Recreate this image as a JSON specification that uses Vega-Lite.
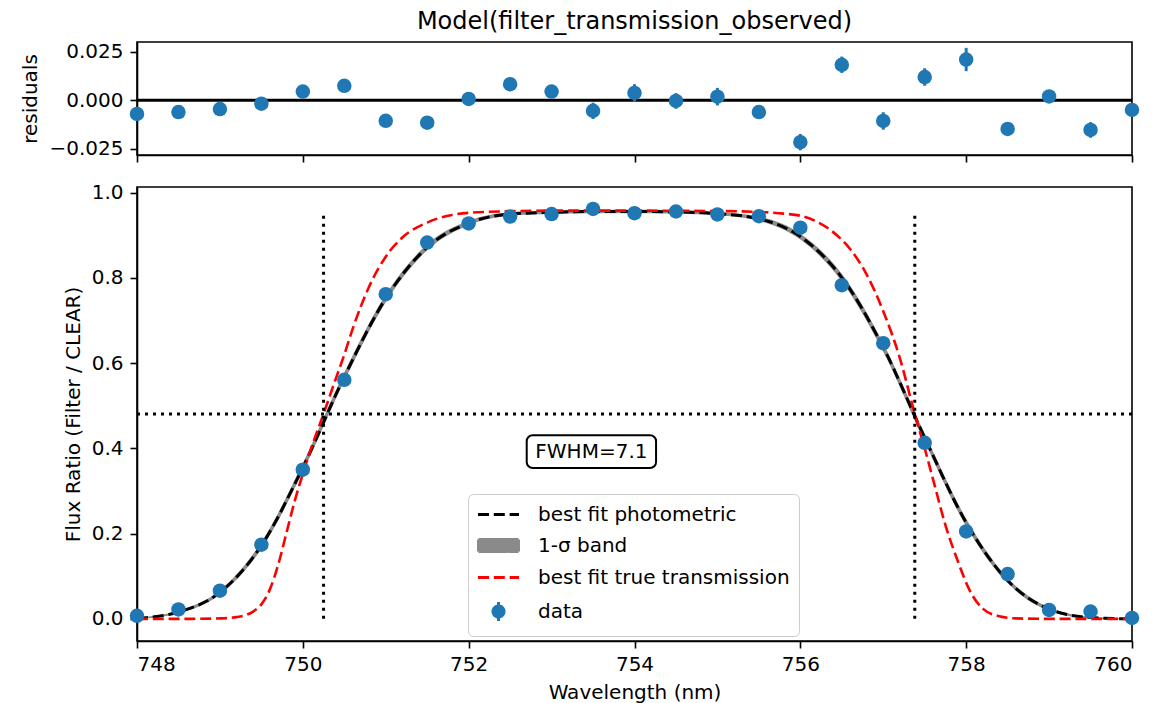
{
  "$schema": "https://vega.github.io/schema/vega-lite/v6.json",
  "background": "white",
  "padding": {"left": 20, "top": 8, "right": 5, "bottom": 5},
  "spacing": 32,
  "bounds": "flush",
  "config": {
    "font": "DejaVu Sans",
    "view": {"stroke": "black", "strokeWidth": 1.6},
    "axis": {
      "grid": false, "labelFontSize": 20, "titleFontSize": 20, "titleFontWeight": "normal",
      "labelColor": "black", "titleColor": "black", "domainColor": "black", "tickColor": "black",
      "tickSize": 7, "tickWidth": 1.6, "domainWidth": 1.6, "labelFont": "DejaVu Sans", "titleFont": "DejaVu Sans"
    }
  },
  "datasets": {
    "obs": [
      {"w": 748.0, "f": 0.007, "err": 0.0015, "res": -0.0070},
      {"w": 748.5, "f": 0.022, "err": 0.0015, "res": -0.0060},
      {"w": 749.0, "f": 0.066, "err": 0.002, "res": -0.0045},
      {"w": 749.5, "f": 0.174, "err": 0.002, "res": -0.0017},
      {"w": 750.0, "f": 0.350, "err": 0.003, "res": 0.0045},
      {"w": 750.5, "f": 0.561, "err": 0.003, "res": 0.0075},
      {"w": 751.0, "f": 0.762, "err": 0.003, "res": -0.0105},
      {"w": 751.5, "f": 0.883, "err": 0.003, "res": -0.0115},
      {"w": 752.0, "f": 0.928, "err": 0.003, "res": 0.0007},
      {"w": 752.5, "f": 0.944, "err": 0.003, "res": 0.0083},
      {"w": 753.0, "f": 0.950, "err": 0.003, "res": 0.0045},
      {"w": 753.5, "f": 0.962, "err": 0.0042, "res": -0.0054},
      {"w": 754.0, "f": 0.952, "err": 0.0045, "res": 0.0038},
      {"w": 754.5, "f": 0.956, "err": 0.004, "res": -0.0003},
      {"w": 755.0, "f": 0.949, "err": 0.0045, "res": 0.0019},
      {"w": 755.5, "f": 0.945, "err": 0.003, "res": -0.0060},
      {"w": 756.0, "f": 0.918, "err": 0.0042, "res": -0.0215},
      {"w": 756.5, "f": 0.783, "err": 0.0042, "res": 0.0183},
      {"w": 757.0, "f": 0.647, "err": 0.0045, "res": -0.0106},
      {"w": 757.5, "f": 0.413, "err": 0.0045, "res": 0.0120},
      {"w": 758.0, "f": 0.205, "err": 0.006, "res": 0.0210},
      {"w": 758.5, "f": 0.105, "err": 0.003, "res": -0.0147},
      {"w": 759.0, "f": 0.021, "err": 0.003, "res": 0.0020},
      {"w": 759.5, "f": 0.017, "err": 0.004, "res": -0.0152},
      {"w": 760.0, "f": 0.002, "err": 0.003, "res": -0.0049}
    ],
    "model": [
      {"w": 748.0, "m": 0.001, "lo": -0.001, "hi": 0.003},
      {"w": 748.5, "m": 0.016, "lo": 0.013, "hi": 0.019},
      {"w": 749.0, "m": 0.062, "lo": 0.057, "hi": 0.067},
      {"w": 749.5, "m": 0.172, "lo": 0.164, "hi": 0.180},
      {"w": 750.0, "m": 0.355, "lo": 0.345, "hi": 0.365},
      {"w": 750.5, "m": 0.568, "lo": 0.558, "hi": 0.578},
      {"w": 751.0, "m": 0.752, "lo": 0.743, "hi": 0.761},
      {"w": 751.5, "m": 0.872, "lo": 0.865, "hi": 0.879},
      {"w": 752.0, "m": 0.929, "lo": 0.924, "hi": 0.934},
      {"w": 752.5, "m": 0.950, "lo": 0.946, "hi": 0.954},
      {"w": 753.0, "m": 0.954, "lo": 0.950, "hi": 0.958},
      {"w": 753.5, "m": 0.956, "lo": 0.952, "hi": 0.960},
      {"w": 754.0, "m": 0.956, "lo": 0.952, "hi": 0.960},
      {"w": 754.5, "m": 0.955, "lo": 0.951, "hi": 0.959},
      {"w": 755.0, "m": 0.951, "lo": 0.947, "hi": 0.955},
      {"w": 755.5, "m": 0.939, "lo": 0.934, "hi": 0.944},
      {"w": 756.0, "m": 0.897, "lo": 0.890, "hi": 0.904},
      {"w": 756.5, "m": 0.801, "lo": 0.792, "hi": 0.810},
      {"w": 757.0, "m": 0.637, "lo": 0.627, "hi": 0.647},
      {"w": 757.5, "m": 0.425, "lo": 0.415, "hi": 0.435},
      {"w": 758.0, "m": 0.226, "lo": 0.217, "hi": 0.235},
      {"w": 758.5, "m": 0.090, "lo": 0.084, "hi": 0.096},
      {"w": 759.0, "m": 0.023, "lo": 0.019, "hi": 0.027},
      {"w": 759.5, "m": 0.003, "lo": 0.001, "hi": 0.005},
      {"w": 760.0, "m": 0.000, "lo": -0.001, "hi": 0.001}
    ],
    "trans": [
      {"w": 748.0, "t": 0.0}, {"w": 748.6, "t": 0.0}, {"w": 749.0, "t": 0.001},
      {"w": 749.2, "t": 0.004}, {"w": 749.3, "t": 0.008}, {"w": 749.4, "t": 0.017},
      {"w": 749.5, "t": 0.034}, {"w": 749.6, "t": 0.068}, {"w": 749.7, "t": 0.125},
      {"w": 749.8, "t": 0.2}, {"w": 749.9, "t": 0.275}, {"w": 750.0, "t": 0.34},
      {"w": 750.1, "t": 0.40}, {"w": 750.25, "t": 0.481}, {"w": 750.4, "t": 0.565},
      {"w": 750.5, "t": 0.62}, {"w": 750.6, "t": 0.68}, {"w": 750.8, "t": 0.78},
      {"w": 751.0, "t": 0.85}, {"w": 751.2, "t": 0.895}, {"w": 751.5, "t": 0.93},
      {"w": 751.8, "t": 0.948}, {"w": 752.2, "t": 0.955}, {"w": 753.0, "t": 0.958},
      {"w": 754.0, "t": 0.958}, {"w": 755.0, "t": 0.957}, {"w": 755.5, "t": 0.955},
      {"w": 755.8, "t": 0.951}, {"w": 756.0, "t": 0.946}, {"w": 756.2, "t": 0.932},
      {"w": 756.4, "t": 0.907}, {"w": 756.6, "t": 0.868}, {"w": 756.8, "t": 0.808},
      {"w": 757.0, "t": 0.722}, {"w": 757.2, "t": 0.612}, {"w": 757.38, "t": 0.481},
      {"w": 757.5, "t": 0.40}, {"w": 757.6, "t": 0.328}, {"w": 757.75, "t": 0.22},
      {"w": 757.9, "t": 0.135}, {"w": 758.05, "t": 0.064}, {"w": 758.2, "t": 0.024},
      {"w": 758.4, "t": 0.006}, {"w": 758.6, "t": 0.001}, {"w": 759.0, "t": 0.0},
      {"w": 760.0, "t": 0.0}
    ],
    "fwhm": [
      {"w": 750.25, "base": 0.0, "top": 0.958},
      {"w": 757.38, "base": 0.0, "top": 0.958}
    ],
    "half": [{"h": 0.481}],
    "zero": [{"r": 0}],
    "box": [{"x1": 752.70, "x2": 754.26, "y1": 0.354, "y2": 0.431, "cx": 753.48, "cy": 0.392, "label": "FWHM=7.1"}]
  },
  "vconcat": [
    {
      "width": 995,
      "height": 113,
      "title": {"text": "Model(filter_transmission_observed)", "fontSize": 24, "fontWeight": "normal", "anchor": "middle", "frame": "group", "offset": 8, "color": "black", "font": "DejaVu Sans"},
      "layer": [
        {
          "data": {"name": "zero"},
          "mark": {"type": "rule", "color": "black", "strokeWidth": 3},
          "encoding": {
            "y": {"field": "r", "type": "quantitative", "title": "residuals",
              "scale": {"domain": [-0.0281, 0.0300], "nice": false, "zero": false},
              "axis": {"values": [-0.025, 0, 0.025], "format": ".3f", "title": "residuals", "titlePadding": 8, "labelPadding": 7}}
          }
        },
        {
          "data": {"name": "obs"},
          "mark": {"type": "errorbar", "color": "#1f77b4", "thickness": 3},
          "encoding": {
            "x": {"field": "w", "type": "quantitative", "title": null,
              "scale": {"domain": [748, 760], "nice": false, "zero": false},
              "axis": {"values": [748, 750, 752, 754, 756, 758, 760], "labels": false, "title": null}},
            "y": {"field": "res", "type": "quantitative", "title": "residuals"},
            "yError": {"field": "err"}
          }
        },
        {
          "data": {"name": "obs"},
          "mark": {"type": "point", "filled": true, "size": 210, "opacity": 1, "color": "#1f77b4"},
          "encoding": {
            "x": {"field": "w", "type": "quantitative", "title": null},
            "y": {"field": "res", "type": "quantitative", "title": "residuals"}
          }
        }
      ]
    },
    {
      "width": 995,
      "height": 454,
      "layer": [
        {
          "data": {"name": "model"},
          "mark": {"type": "area", "opacity": 0.9, "interpolate": "monotone", "color": "#808080"},
          "encoding": {
            "x": {"field": "w", "type": "quantitative", "title": "Wavelength (nm)",
              "scale": {"domain": [748, 760], "nice": false, "zero": false},
              "axis": {"values": [748, 750, 752, 754, 756, 758, 760], "format": "d", "title": "Wavelength (nm)", "labelPadding": 6, "titlePadding": 8}},
            "y": {"field": "lo", "type": "quantitative", "title": "Flux Ratio (Filter / CLEAR)",
              "scale": {"domain": [-0.052, 1.0135], "nice": false, "zero": false},
              "axis": {"values": [0, 0.2, 0.4, 0.6, 0.8, 1.0], "format": ".1f", "title": "Flux Ratio (Filter / CLEAR)", "titlePadding": 8, "labelPadding": 7}},
            "y2": {"field": "hi"}
          }
        },
        {
          "data": {"name": "model"},
          "mark": {"type": "line", "strokeWidth": 3, "strokeDash": [11, 4.8], "interpolate": "monotone"},
          "encoding": {
            "x": {"field": "w", "type": "quantitative", "title": "Wavelength (nm)"},
            "y": {"field": "m", "type": "quantitative", "title": "Flux Ratio (Filter / CLEAR)"},
            "color": {
              "datum": "best fit photometric", "type": "nominal",
              "scale": {"domain": ["best fit photometric", "1-σ band", "best fit true transmission", "data"], "range": ["black", "#8a8a8a", "red", "#1f77b4"]},
              "legend": {
                "title": null, "orient": "none", "legendX": 331, "legendY": 452, "direction": "vertical",
                "labelFontSize": 20, "labelFont": "DejaVu Sans", "labelColor": "black", "labelLimit": 500,
                "symbolSize": 400, "labelOffset": 38, "rowPadding": 8, "padding": 9,
                "symbolType": "M-1.05,0H3.05", "symbolStrokeWidth": 3, "symbolDash": [11, 4.8],
                "fillColor": "white", "strokeColor": "#cccccc", "cornerRadius": 5,
                "encode": {
                  "symbols": {
                    "update": {
                      "shape": {"signal": "datum.value === 'data' ? 'M0.45,0A0.55,0.55 0 1,0 1.55,0A0.55,0.55 0 1,0 0.45,0Z M1,-0.95V0.95' : datum.value === '1-σ band' ? 'M-1.0,-0.6H3.0V0.6H-1.0Z' : 'M-1.05,0H3.05'"},
                      "fill": {"signal": "datum.value === '1-σ band' ? '#8a8a8a' : datum.value === 'data' ? '#1f77b4' : 'transparent'"},
                      "strokeDash": {"signal": "datum.value === 'data' || datum.value === '1-σ band' ? [1, 0] : [11, 4.8]"},
                      "strokeWidth": {"value": 3},
                      "opacity": {"value": 1}
                    }
                  }
                }
              }
            }
          }
        },
        {
          "data": {"name": "trans"},
          "mark": {"type": "line", "strokeWidth": 2.6, "strokeDash": [11, 4.8], "interpolate": "monotone", "color": "red"},
          "encoding": {
            "x": {"field": "w", "type": "quantitative", "title": "Wavelength (nm)"},
            "y": {"field": "t", "type": "quantitative", "title": "Flux Ratio (Filter / CLEAR)"}
          }
        },
        {
          "data": {"name": "half"},
          "mark": {"type": "rule", "color": "black", "strokeWidth": 3, "strokeDash": [3, 5]},
          "encoding": {
            "y": {"field": "h", "type": "quantitative", "title": "Flux Ratio (Filter / CLEAR)"}
          }
        },
        {
          "data": {"name": "fwhm"},
          "mark": {"type": "rule", "color": "black", "strokeWidth": 3, "strokeDash": [3, 5]},
          "encoding": {
            "x": {"field": "w", "type": "quantitative", "title": "Wavelength (nm)"},
            "y": {"field": "base", "type": "quantitative", "title": "Flux Ratio (Filter / CLEAR)"},
            "y2": {"field": "top"}
          }
        },
        {
          "data": {"name": "obs"},
          "mark": {"type": "errorbar", "color": "#1f77b4", "thickness": 3},
          "encoding": {
            "x": {"field": "w", "type": "quantitative", "title": "Wavelength (nm)"},
            "y": {"field": "f", "type": "quantitative", "title": "Flux Ratio (Filter / CLEAR)"},
            "yError": {"field": "err"}
          }
        },
        {
          "data": {"name": "obs"},
          "mark": {"type": "point", "filled": true, "size": 210, "opacity": 1, "color": "#1f77b4"},
          "encoding": {
            "x": {"field": "w", "type": "quantitative", "title": "Wavelength (nm)"},
            "y": {"field": "f", "type": "quantitative", "title": "Flux Ratio (Filter / CLEAR)"}
          }
        },
        {
          "data": {"name": "box"},
          "mark": {"type": "rect", "fill": "white", "stroke": "black", "strokeWidth": 2, "cornerRadius": 6},
          "encoding": {
            "x": {"field": "x1", "type": "quantitative", "title": "Wavelength (nm)"},
            "x2": {"field": "x2"},
            "y": {"field": "y1", "type": "quantitative", "title": "Flux Ratio (Filter / CLEAR)"},
            "y2": {"field": "y2"}
          }
        },
        {
          "data": {"name": "box"},
          "mark": {"type": "text", "fontSize": 20, "font": "DejaVu Sans", "color": "black", "align": "center", "baseline": "middle"},
          "encoding": {
            "x": {"field": "cx", "type": "quantitative", "title": "Wavelength (nm)"},
            "y": {"field": "cy", "type": "quantitative", "title": "Flux Ratio (Filter / CLEAR)"},
            "text": {"field": "label"}
          }
        }
      ]
    }
  ]
}
